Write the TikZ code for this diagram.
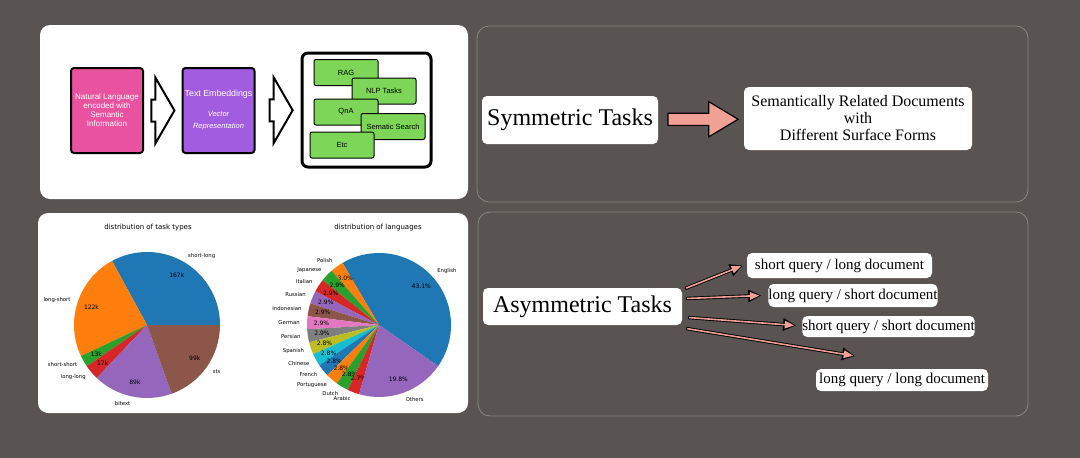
\documentclass[tikz,border=0pt]{standalone}
\usepackage{fontspec}
\setmainfont{Liberation Serif}
\newfontfamily\boxfont{Liberation Sans}
\newfontfamily\plotfont{DejaVu Sans}
\usetikzlibrary{arrows.meta, shapes.arrows, calc}

\definecolor{slidebg}{RGB}{89,84,81}
\definecolor{panelline}{RGB}{140,134,130}
\definecolor{nlpink}{RGB}{232,82,158}
\definecolor{embpurple}{RGB}{162,92,224}
\definecolor{taskgreen}{RGB}{126,214,88}
\definecolor{salmon}{RGB}{241,160,150}
\definecolor{tabblue}{RGB}{31,119,180}
\definecolor{taborange}{RGB}{255,127,14}
\definecolor{tabgreen}{RGB}{44,160,44}
\definecolor{tabred}{RGB}{214,39,40}
\definecolor{tabpurple}{RGB}{148,103,189}
\definecolor{tabbrown}{RGB}{140,86,75}
\definecolor{tabpink}{RGB}{227,119,194}
\definecolor{tabgray}{RGB}{127,127,127}
\definecolor{tabolive}{RGB}{188,189,34}
\definecolor{tabcyan}{RGB}{23,190,207}

\tikzset{
  panel/.style={rounded corners=10pt, line width=0.8pt},
  stepbox/.style={draw=black, line width=2pt, rounded corners=3pt, minimum width=72pt, minimum height=85pt, text=white, align=center, inner sep=1pt},
  usebox/.style={draw=black, line width=1pt, fill=taskgreen, rounded corners=2pt, minimum width=64pt, minimum height=26pt, font=\boxfont\fontsize{7.5}{8}\selectfont},
  hollowarrow/.style={single arrow, draw=black, fill=white, line width=2pt, inner xsep=0pt, inner ysep=10pt, single arrow head extend=22pt, single arrow tip angle=120, minimum height=23pt},
  bigarrow/.style={single arrow, draw=black, fill=salmon, line width=1.2pt, inner xsep=0pt, inner ysep=5.5pt, single arrow head extend=11.5pt, single arrow tip angle=62, minimum height=70pt},
  slidebox/.style={fill=white, rounded corners=5pt, align=center, inner sep=0pt},
  querybox/.style={slidebox, font=\fontsize{15}{17}\selectfont},
  pinkarrow/.style={line width=3.4pt, draw=black, -{Triangle[length=13pt,width=12pt]},
    postaction={draw=salmon, line width=1.6pt, -{Triangle[length=9.5pt,width=7.5pt]}, shorten >=1.8pt, shorten <=1pt}},
  pielabel/.style={font=\plotfont\fontsize{5.3}{6}\selectfont, inner sep=0pt},
  piepct/.style={font=\plotfont\fontsize{6}{7}\selectfont, inner sep=0pt},
  pietitle/.style={font=\plotfont\fontsize{7}{8}\selectfont}
}

\begin{document}
\begin{tikzpicture}[x=1pt, y=-1pt]
  \useasboundingbox (0,0) rectangle (1080,458);
  \fill[slidebg] (0,0) rectangle (1080,458);

  % four panels
  \fill[white, panel] (40,25) rectangle (468,199);
  \fill[white, panel] (38,213) rectangle (468,413);
  \draw[panelline, panel, rounded corners=12pt] (477,26) rectangle (1028,202);
  \draw[panelline, panel, rounded corners=12pt] (478,212) rectangle (1028,416);

  % embeddings pipeline
  \node[stepbox, fill=nlpink, font=\boxfont\fontsize{8}{9}\selectfont] (nl) at (107,110.5)
    {Natural Language\\encoded with\\Semantic\\Information};
  \node[stepbox, fill=embpurple] (emb) at (218.5,110.5)
    {\boxfont\fontsize{8.8}{10}\selectfont Text Embeddings\\[8pt]
     \boxfont\itshape\fontsize{7.5}{8.5}\selectfont Vector\\
     \boxfont\itshape\fontsize{7.5}{8.5}\selectfont Representation};
  \node[draw=black, line width=3pt, rounded corners=6pt, minimum width=129pt, minimum height=114pt] (uses) at (366.5,110) {};
  \node[hollowarrow] (a1) at ($(nl.east)!0.5!(emb.west)+(-3,0)$) {};
  \node[hollowarrow] (a2) at ($(emb.east)!0.5!(uses.west)+(0,0)$) {};

  \node[usebox] (rag) at (346,72.5) {RAG};
  \node[usebox] (nlp) at (384,91) {NLP Tasks};
  \node[usebox] (qna) at (346,112) {QnA};
  \node[usebox] (search) at (393,126.5) {Sematic Search};
  \node[usebox] (etc) at (342,145) {Etc};

  % task type pie
  \node[pietitle] (t1) at (148,228) {distribution of task types};
  \begin{scope}[shift={(147,325)}, y=1pt]
    \foreach \a/\b/\c/\lab/\pct [count=\i] in {
        0/118.6/tabblue/short-long/167k,
        118.6/205.2/taborange/long-short/122k,
        205.2/214.4/tabgreen/short-short/13k,
        214.4/226.5/tabred/long-long/17k,
        226.5/289.7/tabpurple/bitext/89k,
        289.7/360/tabbrown/sts/99k}{
      \fill[\c] (0,0) -- (\a:73) arc[start angle=\a, end angle=\b, radius=73] -- cycle;
      \pgfmathsetmacro\m{(\a+\b)/2}
      \pgfmathsetmacro\cm{cos(\m)}
      \ifdim\cm pt>0pt \def\anc{west}\else\def\anc{east}\fi
      \node[pielabel, anchor=\anc] (tl\i) at (\m:80.3) {\lab};
      \node[piepct] (tp\i) at (\m:58.4) {\pct};
    }
  \end{scope}

  % language pie
  \node[pietitle] (t2) at (378,228) {distribution of languages};
  \begin{scope}[shift={(379,325)}, y=1pt]
    \foreach \a/\b/\c/\lab/\pct [count=\i] in {
        -34.76/120.4/tabblue/English/43.1\%,
        120.4/131.2/taborange/Polish/3.0\%,
        131.2/141.64/tabgreen/Japanese/2.9\%,
        141.64/152.08/tabred/Italian/2.9\%,
        152.08/162.52/tabpurple/Russian/2.9\%,
        162.52/172.96/tabbrown/Indonesian/2.9\%,
        172.96/183.4/tabpink/German/2.9\%,
        183.4/193.84/tabgray/Persian/2.9\%,
        193.84/203.92/tabolive/Spanish/2.8\%,
        203.92/214.0/tabcyan/Chinese/2.8\%,
        214.0/224.08/tabblue/French/2.8\%,
        224.08/234.16/taborange/Portuguese/2.8\%,
        234.16/244.24/tabgreen/Dutch/2.8\%,
        244.24/253.96/tabred/Arabic/2.7\%,
        253.96/325.24/tabpurple/Others/19.8\%}{
      \fill[\c] (0,0) -- (\a:72) arc[start angle=\a, end angle=\b, radius=72] -- cycle;
      \pgfmathsetmacro\m{(\a+\b)/2}
      \pgfmathsetmacro\cm{cos(\m)}
      \ifdim\cm pt>0pt \def\anc{west}\else\def\anc{east}\fi
      \node[pielabel, anchor=\anc] (ll\i) at (\m:79.2) {\lab};
      \node[piepct] (lp\i) at (\m:57.6) {\pct};
    }
  \end{scope}

  % symmetric tasks
  \node[slidebox, minimum width=176pt, minimum height=48pt, font=\fontsize{24}{26}\selectfont] (sym) at (570,120) {Symmetric Tasks};
  \node[slidebox, minimum width=228pt, minimum height=63pt, font=\fontsize{16}{17}\selectfont] (rel) at (858,118.5)
    {Semantically Related Documents\\with\\Different Surface Forms};
  \node[bigarrow] (symarrow) at ($(sym.east)!0.5!(rel.west)+(-3,0)$) {};

  % asymmetric tasks
  \node[slidebox, minimum width=199pt, minimum height=37pt, font=\fontsize{24}{26}\selectfont] (asym) at (582.5,306.5) {Asymmetric Tasks};
  \node[querybox, minimum width=185pt, minimum height=25pt] (q1) at (839.5,265.5) {short query / long document};
  \node[querybox, minimum width=164pt, minimum height=23pt] (q2) at (853,295.5) {long query / short document};
  \node[querybox, minimum width=165pt, minimum height=21pt] (q3) at (888.5,326.5) {short query / short document};
  \node[querybox, minimum width=172pt, minimum height=22pt] (q4) at (902,380) {long query / long document};

  \coordinate (s1) at ([shift={(3,-18)}]asym.east);
  \coordinate (s2) at ([shift={(4,-8)}]asym.east);
  \coordinate (s3) at ([shift={(6,11)}]asym.east);
  \coordinate (s4) at ([shift={(4,22)}]asym.east);
  \coordinate (free) at (855,356);
  \draw[pinkarrow] (s1) -- ([xshift=-4pt]q1.west);
  \draw[pinkarrow] (s2) -- ([xshift=-7pt]q2.west);
  \draw[pinkarrow] (s3) -- ([xshift=-6pt,yshift=1pt]q3.west);
  \draw[pinkarrow] (s4) -- (free);
\end{tikzpicture}
\end{document}
